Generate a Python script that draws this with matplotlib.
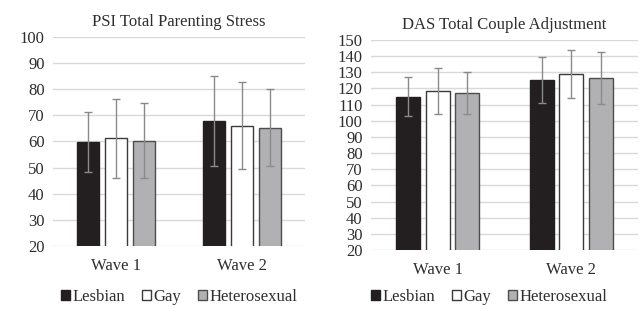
import matplotlib.pyplot as plt
import numpy as np

plt.rcParams["font.family"] = ["Liberation Serif", "DejaVu Serif"]

waves = ["Wave 1", "Wave 2"]
groups = ["Lesbian", "Gay", "Heterosexual"]

# PSI Total Parenting Stress: means and SD per group (wave 1, wave 2)
psi_mean = {"Lesbian": [59.9, 68.0], "Gay": [61.2, 66.1], "Heterosexual": [60.3, 65.3]}
psi_sd = {"Lesbian": [11.4, 17.2], "Gay": [15.2, 16.8], "Heterosexual": [14.3, 14.7]}

# DAS Total Couple Adjustment
das_mean = {"Lesbian": [115.0, 125.2], "Gay": [118.5, 129.1], "Heterosexual": [117.0, 126.4]}
das_sd = {"Lesbian": [12.1, 14.3], "Gay": [14.3, 14.7], "Heterosexual": [12.9, 16.2]}

face = {"Lesbian": "#231f20", "Gay": "white", "Heterosexual": "#b1b1b4"}
edge = {"Lesbian": "#231f20", "Gay": "#3a3a3a", "Heterosexual": "#4d4d4d"}
txt = "#2e2e2e"

fig = plt.figure(figsize=(6.44, 3.09), dpi=100)
W, H = 644, 309


def panel(rect, means, sds, ylim, step, title, bar_w, spacing):
    x0, y0, x1, y1 = rect
    ax = fig.add_axes([x0 / W, 1 - y1 / H, (x1 - x0) / W, (y1 - y0) / H])
    x = np.arange(len(waves))
    handles = []
    for i, g in enumerate(groups):
        pos = x + (i - 1) * spacing
        b = ax.bar(pos, means[g], width=bar_w, color=face[g], edgecolor=edge[g],
                   linewidth=1.0, zorder=3, label=g)
        ax.errorbar(pos, means[g], yerr=sds[g], fmt="none", ecolor="#8a8a8a",
                    elinewidth=1.0, capsize=3, capthick=1.0, zorder=4)
        handles.append(b)
    ax.set_xlim(-0.5, 1.5)
    ax.set_ylim(*ylim)
    ax.set_yticks(np.arange(ylim[0], ylim[1] + 1, step))
    ax.set_xticks(x)
    ax.set_xticklabels(waves)
    ax.grid(axis="y", color="#d9d9d9", linewidth=1.0, zorder=0)
    for s in ax.spines.values():
        s.set_visible(False)
    ax.tick_params(axis="both", length=0, labelsize=12, colors=txt)
    ax.tick_params(axis="x", pad=9)
    ax.tick_params(axis="y", pad=6)
    ax.set_title(title, fontsize=12, color=txt, pad=8)
    return ax, handles


axL, hL = panel((53, 37, 305, 246), psi_mean, psi_sd, (20, 100), 10,
                "PSI Total Parenting Stress", 0.175, 0.222)
axR, hR = panel((371, 40, 638, 250), das_mean, das_sd, (20, 150), 10,
                "DAS Total Couple Adjustment", 0.18, 0.221)

for ax, h, cx in ((axL, hL, 179 / W), (axR, hR, 489 / W)):
    fig.legend(h, groups, loc="center", bbox_to_anchor=(cx, 1 - 297 / H),
               ncol=3, frameon=False, fontsize=12, handlelength=0.55,
               handleheight=0.55, handletextpad=0.15, columnspacing=1.0,
               labelcolor=txt, borderpad=0)

fig.savefig("out.png", dpi=100)
